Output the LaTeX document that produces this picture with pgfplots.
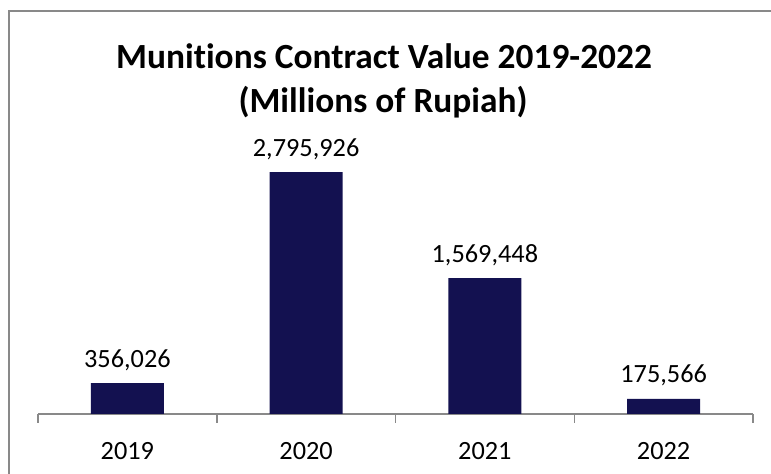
\documentclass[border=0pt]{standalone}
\usepackage{pgfplots}
\pgfplotsset{compat=1.18}
\usepackage{fontspec}
\setmainfont{Carlito}[Ligatures={NoCommon}]
\definecolor{barc}{RGB}{19,17,80}
\definecolor{bord}{RGB}{137,137,137}
\begin{document}
\begin{tikzpicture}[x=1bp,y=1bp]
\path[use as bounding box] (0,0) rectangle (771,474);
\draw[bord, line width=2bp] (9,-2) -- (9,463) -- (773,463);
\node[anchor=base, font=\bfseries\fontsize{35.5}{42}\selectfont] at (384,405.5) {Munitions Contract Value 2019-2022};
\node[anchor=base, font=\bfseries\fontsize{35.5}{42}\selectfont] at (383,361) {(Millions of Rupiah)};
\begin{axis}[
  at={(38bp,60bp)}, anchor=south west,
  scale only axis, width=715bp, height=259.5bp,
  xmin=-0.5, xmax=3.5, ymin=0, ymax=3000000,
  axis x line=bottom, hide y axis, ytick=\empty,
  axis line style={bord, line width=1.5bp, -},
  xtick={0,1,2,3}, xticklabels={2019,2020,2021,2022},
  major tick length=0pt,
  minor xtick={-0.5,0.5,1.5,2.5,3.5},
  minor tick length=9bp, tick align=outside,
  minor tick style={bord, line width=1.5bp},
  xticklabel style={anchor=base, yshift=-45.5bp, font=\fontsize{26.4}{32}\selectfont},
  ybar, bar width=73bp,
  nodes near coords,
  every node near coord/.append style={anchor=base, yshift=16bp, font=\fontsize{26.4}{32}\selectfont, text=black},
  /pgf/number format/.cd, fixed, 1000 sep={,}, assume math mode=true,
]
\addplot[fill=barc, draw=none] coordinates {(0,356026) (1,2795926) (2,1569448) (3,175566)};
\end{axis}
\end{tikzpicture}
\end{document}
